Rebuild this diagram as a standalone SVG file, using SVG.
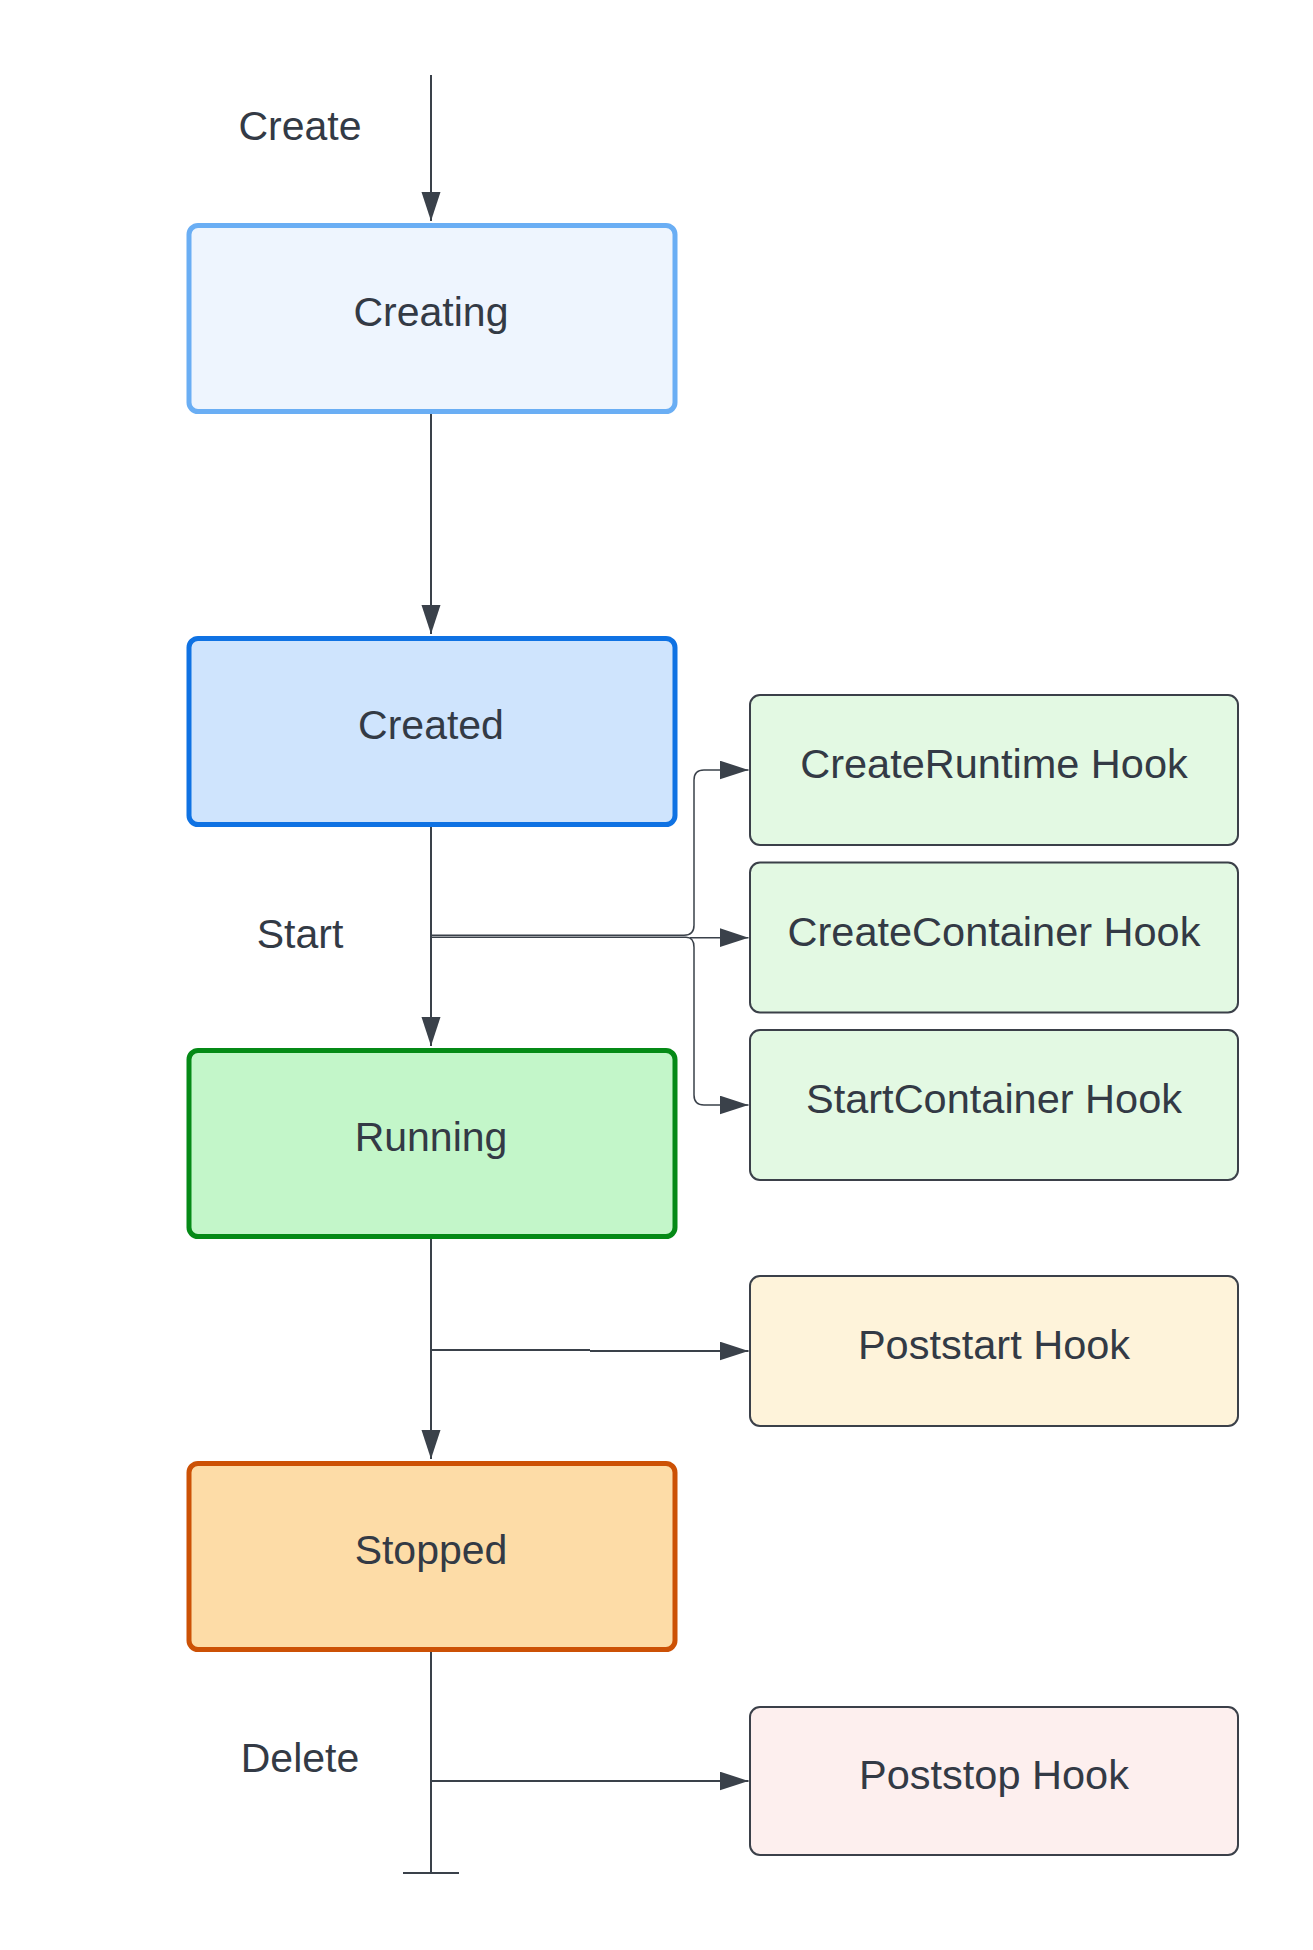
<svg xmlns="http://www.w3.org/2000/svg" width="1313" height="1950" viewBox="0 0 1313 1950">
<style>
text{font-family:"Liberation Sans",Arial,sans-serif;font-size:41px;fill:#333a45;text-anchor:middle}
.hk{font-size:41.5px}
.main{stroke-width:5}
.hook{stroke:#3b4049;stroke-width:2}
.ln{fill:none;stroke:#3a414a;stroke-width:2}
.thin{fill:none;stroke:#3a414a;stroke-width:1.5}
</style>
<defs>
<marker id="ah" markerUnits="userSpaceOnUse" markerWidth="30" markerHeight="20" refX="29" refY="9.5" orient="auto">
<path d="M0,0 L29,9.5 L0,19 Z" fill="#3a414a"/>
</marker>
</defs>
<rect width="1313" height="1950" fill="#ffffff"/>
<g id="labels">
<text x="300" y="140">Create</text>
<text x="300" y="948">Start</text>
<text x="300" y="1772">Delete</text>
</g>
<g id="connectors">
<path class="ln" d="M431,75 V221" marker-end="url(#ah)"/>
<path class="ln" d="M431,413 V634" marker-end="url(#ah)"/>
<path class="ln" d="M431,826 V1046" marker-end="url(#ah)"/>
<path class="ln" d="M431,1239 V1459" marker-end="url(#ah)"/>
<path class="ln" d="M431,1652 V1873"/>
<path class="ln" d="M403,1873 H459"/>
<path class="thin" d="M431,935.3 H684 Q694,935.3 694,925.3 V780 Q694,770 704,770 H748.5" marker-end="url(#ah)"/>
<path class="thin" d="M431,937.3 H686 Q694,937.3 694,947.3 V1095 Q694,1105 704,1105 H748.5" marker-end="url(#ah)"/>
<path class="thin" d="M690,937.7 H748.5" marker-end="url(#ah)"/>
<path class="ln" d="M431,1350 H590"/>
<path class="ln" d="M590,1351 H748.5" marker-end="url(#ah)"/>
<path class="ln" d="M431,1781 H748.5" marker-end="url(#ah)"/>
</g>
<g id="creating">
<rect class="main" x="189" y="225.5" width="486" height="186" rx="9" fill="#eef5fe" stroke="#6aaef4"/>
<text x="431" y="326">Creating</text>
</g>
<g id="created">
<rect class="main" x="189" y="638.5" width="486" height="186" rx="9" fill="#cfe4fd" stroke="#0f72e3"/>
<text x="431" y="739">Created</text>
</g>
<g id="running">
<rect class="main" x="189" y="1050.5" width="486" height="186" rx="9" fill="#c3f6c9" stroke="#058a16"/>
<text x="431" y="1151">Running</text>
</g>
<g id="stopped">
<rect class="main" x="189" y="1463.5" width="486" height="186" rx="9" fill="#fddca7" stroke="#cc5105"/>
<text x="431" y="1564">Stopped</text>
</g>
<g id="createruntime">
<rect class="hook" x="750" y="695" width="488" height="150" rx="10" fill="#e3f9e3"/>
<text class="hk" x="994" y="778">CreateRuntime Hook</text>
</g>
<g id="createcontainer">
<rect class="hook" x="750" y="862.5" width="488" height="150" rx="10" fill="#e3f9e3"/>
<text class="hk" x="994" y="946">CreateContainer Hook</text>
</g>
<g id="startcontainer">
<rect class="hook" x="750" y="1030" width="488" height="150" rx="10" fill="#e3f9e3"/>
<text class="hk" x="994" y="1113">StartContainer Hook</text>
</g>
<g id="poststart">
<rect class="hook" x="750" y="1276" width="488" height="150" rx="10" fill="#fef3da"/>
<text class="hk" x="994" y="1359">Poststart Hook</text>
</g>
<g id="poststop">
<rect class="hook" x="750" y="1707" width="488" height="148" rx="10" fill="#fdefee"/>
<text class="hk" x="994" y="1789">Poststop Hook</text>
</g>
</svg>
